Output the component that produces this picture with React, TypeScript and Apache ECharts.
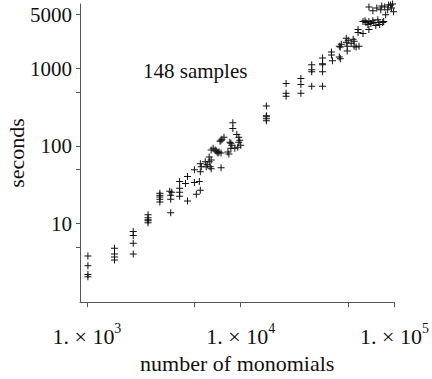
import React, { useEffect, useRef } from "react";
import * as echarts from "echarts";

// number of monomials (x) and seconds (y) for the 148 samples
const monomials = [
  1015, 1015, 1015, 1015, 1511, 1511, 1511, 1511, 2000, 2000, 2000, 2000,
  2497, 2497, 2497, 2497, 2497, 2980, 2980, 2980, 2980, 2980, 3455, 3558,
  3506, 3506, 3506, 4006, 4006, 4006, 4006, 4507, 4375, 4507, 4996, 4996,
  5146, 5460, 5460, 5380, 5460, 5877, 5965, 5540, 6236, 6236, 6425, 6330,
  6425, 6425, 6615, 6813, 7017, 7335, 7445, 7445, 7445, 7228, 7780, 8254,
  8502, 8628, 8628, 8887, 8887, 9153, 9428, 9710, 9854, 10000, 9568, 7555,
  8757, 6915, 6055, 9710, 7120, 8377,
  14680, 14680, 14680, 14680, 14680, 19720, 19720, 19720, 24600, 24600, 24600,
  28940, 28940, 28940, 28940, 34050, 34050, 34050, 34050, 34050,
  38880, 38880, 39470, 43750, 43750, 44400, 45070, 44400,
  48520, 48520, 49240, 49240, 49970, 52230, 53800, 54600, 54600, 56230,
  57920, 57920, 58780, 62360, 62360, 65200, 68130, 70170, 73350, 75550,
  77800, 78950, 83770, 68130, 67150, 72280, 80120, 64250, 85000,
  68130, 72280, 76660, 86280, 87550, 91530, 95680, 97100, 98540, 81330,
  90200, 94280, 82540,
];
const seconds = [
  3.82, 2.86, 2.2, 2.07, 4.83, 4.05, 3.71, 3.4, 7.92, 7.05, 5.58, 4.05,
  13.0, 11.9, 11.2, 10.9, 10.3, 24.7, 23.3, 22.0, 20.7, 19.0, 26.2, 25.4,
  23.3, 20.7, 13.8, 35.0, 28.6, 25.4, 22.6, 40.5, 33.0, 19.6, 49.7, 34.0,
  24.0, 59.2, 46.9, 35.0, 26.9, 62.7, 54.2, 54.2, 72.6, 62.7, 66.5, 54.2,
  51.2, 89.0, 94.3, 89.0, 84.0, 115.7, 119.1, 81.5, 52.7, 84.0, 130.0, 84.0,
  112.3, 109.1, 94.3, 201.3, 169.0, 94.3, 141.8, 130.0, 119.1, 102.9, 97.1, 122.6,
  102.9, 86.4, 57.5, 112.3, 81.5, 79.2,
  330, 247, 240, 226, 213, 646, 483, 442, 747, 627, 483,
  1124, 971, 916, 592, 1378, 1157, 1124, 916, 592,
  1641, 1504, 1263, 1955, 1419, 1339, 2072, 1899,
  2469, 2197, 1955, 1690, 2328, 2135, 2397, 2261, 1955, 1899,
  3209, 2941, 1955, 2856, 4052, 3935, 4052, 3822, 3935, 3606,
  4296, 3935, 3935, 3209, 3712, 4172, 3712, 4172, 4052,
  6274, 5582, 6095, 6274, 4969, 6649, 6095, 6840, 5424, 5747,
  5747, 6649, 6458,
];

const xTickValues = [1000, 5000, 10000, 50000, 100000];
const xLabelValues = [1000, 10000, 100000];
const yTickValues = [5, 10, 50, 100, 500, 1000, 5000];
const yLabelValues = [10, 100, 1000, 5000];
const xAxisTitle = "number of monomials";
const yAxisTitle = "seconds";
const annotation = "148 samples";

const FONT = "Liberation Serif";
const AXIS_COLOR = "#555555";

export default function App() {
  const ref = useRef<HTMLDivElement>(null);

  useEffect(() => {
    document.body.style.margin = "0";
    if (!ref.current) return;
    const chart = echarts.init(ref.current, undefined, { renderer: "svg" });
    const points = monomials.map((m, i) => [Math.log10(m), Math.log10(seconds[i])]);

    chart.setOption({
      animation: false,
      backgroundColor: "#ffffff",
      grid: { left: 80, right: 34, top: 4, bottom: 71 },
      xAxis: {
        type: "value",
        min: 2.955,
        max: 5,
        name: xAxisTitle,
        nameLocation: "middle",
        nameGap: 46,
        nameTextStyle: { fontFamily: FONT, fontSize: 22, color: "#111" },
        axisLine: { show: true, onZero: false, lineStyle: { color: AXIS_COLOR, width: 1 } },
        axisTick: {
          show: true,
          length: 5,
          customValues: xTickValues.map((v) => Math.log10(v)),
          lineStyle: { color: AXIS_COLOR },
        },
        axisLabel: {
          customValues: xLabelValues.map((v) => Math.log10(v)),
          margin: 19,
          formatter: (v: number) => `{m|1. × 10}{s|${Math.round(v)}}`,
          rich: {
            m: { fontFamily: FONT, fontSize: 22, color: "#111", lineHeight: 30 },
            s: { fontFamily: FONT, fontSize: 14, color: "#111", lineHeight: 10, verticalAlign: "top" },
          },
        },
        splitLine: { show: false },
      },
      yAxis: {
        type: "value",
        min: -0.0127,
        max: 3.835,
        axisLine: { show: true, onZero: false, lineStyle: { color: AXIS_COLOR, width: 1 } },
        axisTick: {
          show: true,
          length: 4,
          customValues: yTickValues.map((v) => Math.log10(v)),
          lineStyle: { color: AXIS_COLOR },
        },
        axisLabel: {
          customValues: yLabelValues.map((v) => Math.log10(v)),
          margin: 8,
          fontFamily: FONT,
          fontSize: 21,
          color: "#111",
          formatter: (v: number) => String(Math.round(Math.pow(10, v))),
        },
        splitLine: { show: false },
      },
      graphic: [
        {
          type: "text",
          x: 143,
          y: 71,
          style: {
            text: annotation,
            fontFamily: FONT,
            fontSize: 21,
            fill: "#111",
            align: "left",
            verticalAlign: "middle",
          },
        },
        {
          type: "text",
          x: 16,
          y: 153,
          rotation: Math.PI / 2,
          style: {
            text: yAxisTitle,
            fontFamily: FONT,
            fontSize: 22,
            fill: "#111",
            align: "center",
            verticalAlign: "middle",
          },
        },
      ],
      series: [
        {
          type: "scatter",
          data: points,
          symbol: "path://M3,0H4V7H3Z M0,3H7V4H0Z",
          symbolSize: 7,
          itemStyle: { color: "#111111", opacity: 1 },
          emphasis: { disabled: true },
        },
      ],
    });

    return () => chart.dispose();
  }, []);

  return <div ref={ref} style={{ width: 432, height: 379 }} />;
}
